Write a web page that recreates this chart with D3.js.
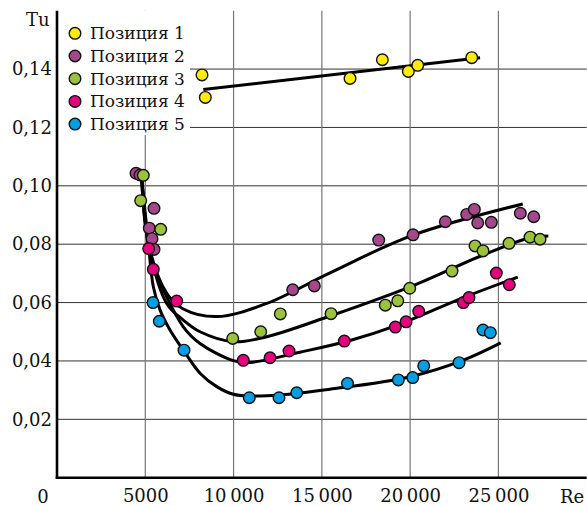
<!DOCTYPE html>
<html><head><meta charset="utf-8">
<script src="https://cdn.jsdelivr.net/npm/d3@7"></script>
<style>body{margin:0;background:#fff}svg{display:block}text{font-family:"DejaVu Serif",serif;fill:#111}</style>
</head><body><svg id="c" width="587" height="506"></svg>
<script>
const seriesNames = ["Позиция 1","Позиция 2","Позиция 3","Позиция 4","Позиция 5"];
const seriesColors = ["#FFED00","#A5478B","#9AC33B","#E5007D","#009FE3"];
const xTicks = [5000,10000,15000,20000,25000];
const xTickLabels = ["5000","10\u2009000","15\u2009000","20\u2009000","25\u2009000"];
const yTicks = [0.02,0.04,0.06,0.08,0.10,0.12,0.14];
const yTickLabels = ["0,02","0,04","0,06","0,08","0,10","0,12","0,14"];

// measured points
const re1 = [8213,8400,16596,18427,19899,20431,23489];
const tu1 = [0.1380,0.1303,0.1368,0.1432,0.1392,0.1413,0.1439];
const re2 = [4475,4701,5494,5228,5381,5494,13350,14574,18221,20164,21994,23206,23636,23829,24599,26242,27001];
const tu2 = [0.1043,0.1037,0.0923,0.0855,0.0819,0.0782,0.0644,0.0657,0.0814,0.0832,0.0877,0.0902,0.0919,0.0873,0.0875,0.0906,0.0894];
const re3 = [4888,4741,5874,9952,11538,12648,15520,18595,19298,19977,22373,23676,24129,25602,26792,27358];
const tu3 = [0.1036,0.0949,0.0851,0.0477,0.0500,0.0561,0.0562,0.0591,0.0606,0.0649,0.0708,0.0794,0.0777,0.0803,0.0824,0.0817];
const re4 = [5194,5454,6780,10552,12065,13141,16273,19162,19768,20487,23014,23336,24883,25619];
const tu4 = [0.0785,0.0714,0.0605,0.0402,0.0411,0.0434,0.0468,0.0516,0.0534,0.0570,0.0600,0.0617,0.0701,0.0661];
const re5 = [5438,5794,7193,10892,12574,13577,16454,19332,20147,20770,22770,24129,24543];
const tu5 = [0.0600,0.0536,0.0437,0.0274,0.0274,0.0291,0.0323,0.0335,0.0343,0.0383,0.0394,0.0506,0.0497];

// fitted curves
const fitRe1 = [8287,23959];
const fitTu1 = [0.1330,0.1439];
const fitRe2 = [4786,5173,6213,7154,9046,11878,15463,20164,26378];
const fitTu2 = [0.1037,0.0803,0.0632,0.0578,0.0552,0.0597,0.0702,0.0831,0.0938];
const fitRe3 = [4786,5173,6213,7154,8100,9986,11878,15463,19994,24129,26792,27828];
const fitTu3 = [0.1037,0.0803,0.0597,0.0540,0.0500,0.0466,0.0483,0.0554,0.0654,0.0763,0.0822,0.0828];
const fitRe4 = [4786,5173,5551,7154,8100,9986,10932,13764,16596,19241,23014,26095];
const fitTu4 = [0.1037,0.0803,0.0712,0.0517,0.0460,0.0401,0.0395,0.0430,0.0470,0.0522,0.0617,0.0687];
const fitRe5 = [4786,5173,5456,5834,6400,7154,8100,9046,9986,10932,12574,15463,19994,23014,25132];
const fitTu5 = [0.1037,0.0803,0.0654,0.0575,0.0506,0.0437,0.0358,0.0312,0.0286,0.0280,0.0283,0.0303,0.0346,0.0403,0.0462];

const pts = [[re1,tu1],[re2,tu2],[re3,tu3],[re4,tu4],[re5,tu5]];
const fits = [[fitRe1,fitTu1],[fitRe2,fitTu2],[fitRe3,fitTu3],[fitRe4,fitTu4],[fitRe5,fitTu5]];

const svg = d3.select("#c");
const x = d3.scaleLinear().domain([0,30000]).range([57,586.7]);
const y = d3.scaleLinear().domain([0,0.16]).range([477.7,10.7]);

// grid
svg.append("g").selectAll("line").data(yTicks).join("line")
  .attr("x1",x(0)).attr("x2",x(30000)).attr("y1",d=>y(d)).attr("y2",d=>y(d))
  .attr("stroke","#333").attr("stroke-width",1);
svg.append("g").selectAll("line").data(xTicks).join("line")
  .attr("x1",d=>x(d)).attr("x2",d=>x(d)).attr("y1",y(0)).attr("y2",y(0.16))
  .attr("stroke","#777").attr("stroke-width",1.2);

// legend background
svg.append("rect").attr("x",x(0)+1).attr("y",y(0.16)).attr("width",190-x(0)-1).attr("height",135-y(0.16)).attr("fill","#fff");

// axes
const xAxis = d3.axisBottom(x).tickValues(xTicks).tickFormat((d,i)=>xTickLabels[i]).tickSize(0).tickPadding(12);
const gx = svg.append("g").attr("transform",`translate(0,${y(0)})`).call(xAxis);
gx.select(".domain").attr("stroke","#000").attr("stroke-width",2.6).attr("d",`M${x(0)-1.3},0H${x(30000)}`);
gx.selectAll("text").attr("font-size",18).attr("font-family","DejaVu Serif").attr("fill","#111");
const yAxis = d3.axisLeft(y).tickValues(yTicks).tickFormat((d,i)=>yTickLabels[i]).tickSize(0).tickPadding(5);
const gy = svg.append("g").attr("transform",`translate(${x(0)},0)`).call(yAxis);
gy.select(".domain").attr("stroke","#000").attr("stroke-width",2.6).attr("d",`M0,${y(0)+1.3}V${y(0.16)}`);
gy.selectAll("text").attr("font-size",18).attr("font-family","DejaVu Serif").attr("fill","#111");

svg.append("text").attr("x",43).attr("y",503).attr("text-anchor","middle").attr("font-size",18).text("0");
svg.append("text").attr("x",560).attr("y",503).attr("font-size",18).text("Re");
svg.append("text").attr("x",26).attr("y",26).attr("font-size",18).text("Tu");

// curves
const line = d3.line().x(d=>x(d[0])).y(d=>y(d[1])).curve(d3.curveCatmullRom.alpha(0.5));
fits.forEach(([rs,ts])=>{
  svg.append("path").datum(rs.map((r,i)=>[r,ts[i]])).attr("d",line)
    .attr("fill","none").attr("stroke","#000").attr("stroke-width",3);
});

// points
pts.forEach(([rs,ts],k)=>{
  svg.append("g").selectAll("circle").data(rs.map((r,i)=>[r,ts[i]])).join("circle")
    .attr("cx",d=>x(d[0])).attr("cy",d=>y(d[1])).attr("r",5.8)
    .attr("fill",seriesColors[k]).attr("stroke","#111").attr("stroke-width",1.4);
});

// legend
const lg = svg.append("g");
seriesNames.forEach((n,i)=>{
  const cy = 33.3 + i*22.7;
  lg.append("circle").attr("cx",75).attr("cy",cy).attr("r",5.8).attr("fill",seriesColors[i]).attr("stroke","#111").attr("stroke-width",1.4);
  lg.append("text").attr("x",90).attr("y",cy+6).attr("font-size",17).text(n);
});
</script></body></html>
